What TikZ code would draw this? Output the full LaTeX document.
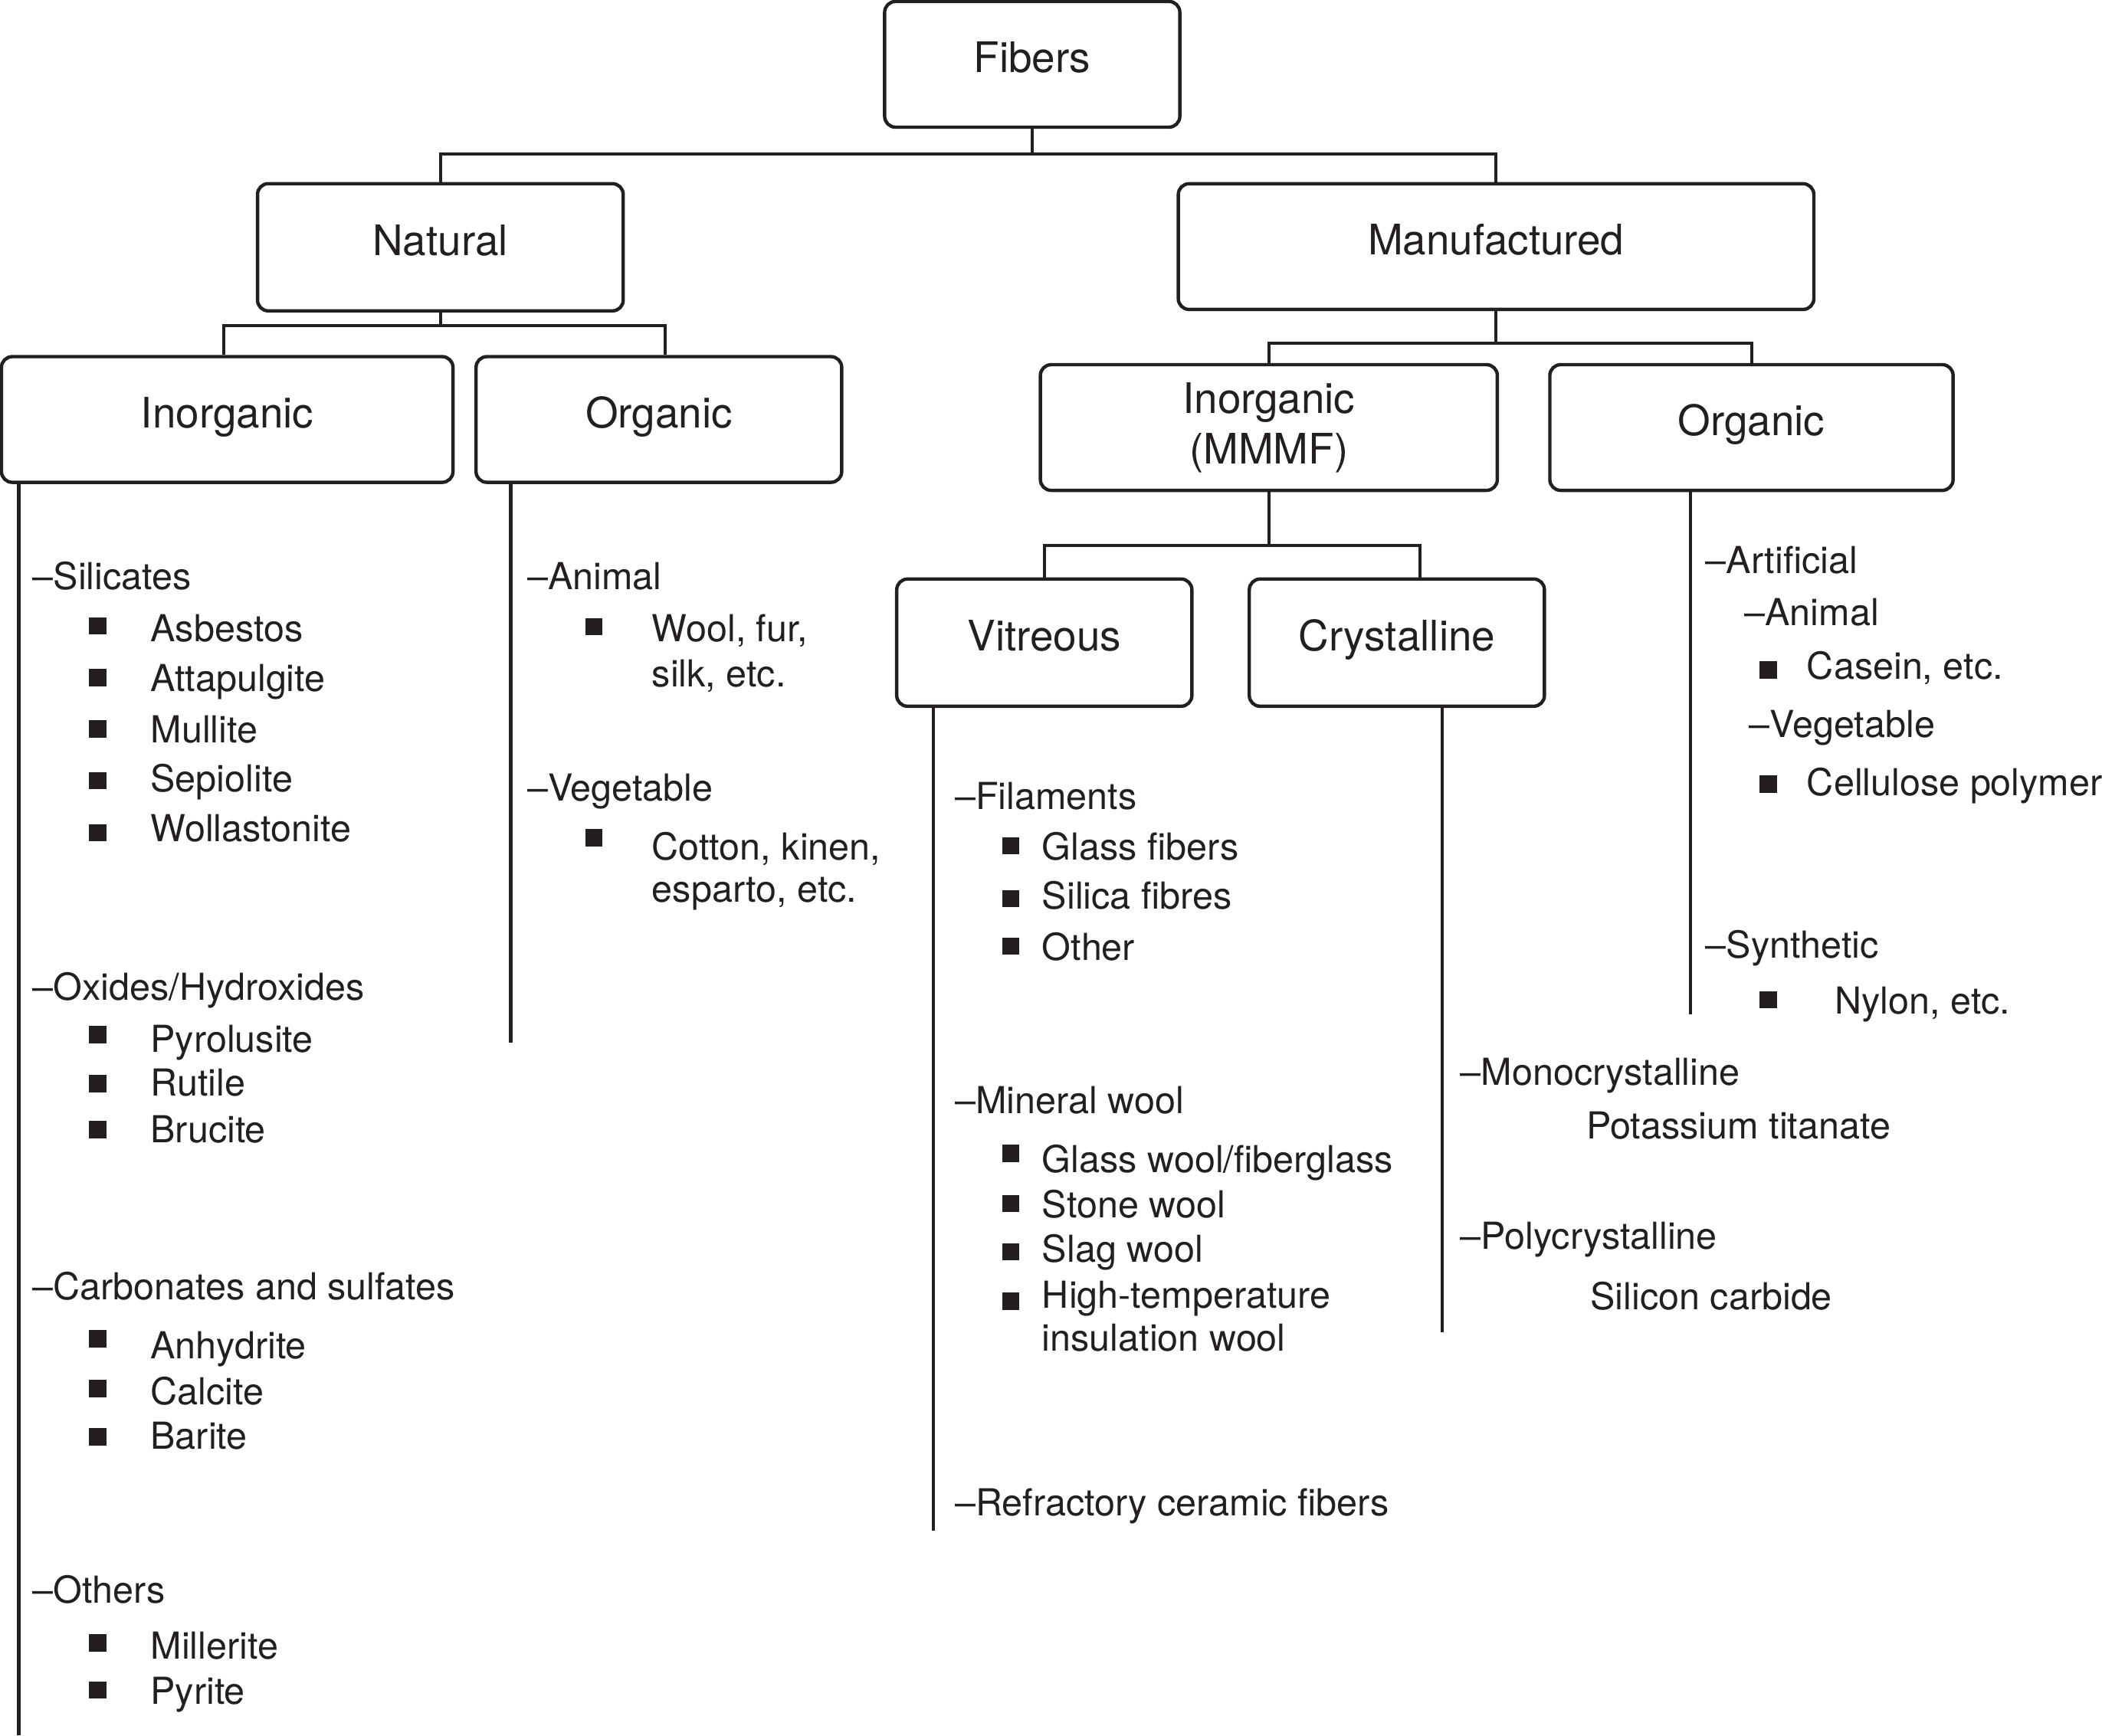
\documentclass[tikz,border=0pt]{standalone}
\usepackage{fontspec}
\setmainfont{TeX Gyre Heros}
\usepackage{tikz}
\definecolor{ink}{RGB}{35,31,32}
\newcommand{\boxfont}{\fontsize{15.6}{18.9}\selectfont}
\newcommand{\itemfont}{\fontsize{13.8}{17}\selectfont}
\newcommand{\sqitem}[4]{
    \node[sqmark] (#1sq) at (#2) {};
    \node[itemtext] (#1) at (#3) {#4};
}
\tikzset{
    catbox/.style={draw=ink, line width=1.25pt, rounded corners=4pt, font=\boxfont,
        text=ink, align=center, inner sep=0pt},
    oneline/.style={text height=11.6pt, text depth=5.4pt},
    itemtext/.style={anchor=base west, inner sep=0pt, font=\itemfont, text=ink},
    sqmark/.style={fill=ink, draw=none, minimum size=0.225cm, inner sep=0pt},
    link/.style={draw=ink, line width=1.15pt},
}

\begin{document}
\begin{tikzpicture}[x=0.01749cm, y=-0.01749cm]
    \useasboundingbox (0,0) rectangle (1568,1295);
    % boxes
    \node[catbox, oneline, minimum width=3.85cm, minimum height=1.64cm] (fib) at (770,48) {Fibers};
    \node[catbox, oneline, minimum width=4.77cm, minimum height=1.66cm] (nat) at (328.5,184.5) {Natural};
    \node[catbox, oneline, minimum width=8.29cm, minimum height=1.64cm] (man) at (1116,184) {Manufactured};
    \node[catbox, oneline, minimum width=5.89cm, minimum height=1.64cm] (inat) at (169.5,313) {Inorganic};
    \node[catbox, oneline, minimum width=4.77cm, minimum height=1.64cm] (onat) at (491.5,313) {Organic};
    \node[catbox, minimum width=5.96cm, minimum height=1.64cm] (mmmf) at (946.5,319) {Inorganic\\(MMMF)};
    \node[catbox, oneline, minimum width=5.26cm, minimum height=1.64cm] (oman) at (1306.5,319) {Organic};
    \node[catbox, oneline, minimum width=3.85cm, minimum height=1.66cm] (vit) at (779,479.5) {Vitreous};
    \node[catbox, oneline, minimum width=3.85cm, minimum height=1.66cm] (cry) at (1042,479.5) {Crystalline};

    % tree connectors
    \coordinate (fj) at (770,115);
    \coordinate (nj) at (328.5,243);
    \coordinate (nl) at (167,243);
    \coordinate (nr) at (496,243);
    \coordinate (mj) at (1116,256);
    \coordinate (ij) at (946.5,407);
    \coordinate (cj) at (1059,407);
    \draw[link] (fib.south) -- (fj);
    \draw[link] (nat.north) |- (fj) -| (man.north);
    \draw[link] (nat.south) -- (nj);
    \draw[link] (inat.north -| nl) -- (nl) -- (nr) -- (onat.north -| nr);
    \draw[link] (man.south) -- (mj);
    \draw[link] (mmmf.north) |- (mj) -| (oman.north);
    \draw[link] (mmmf.south) -- (ij);
    \draw[link] (vit.north) |- (ij) -- (cj) -- (cry.north -| cj);

    % column lines
    \coordinate (ta) at (14,1295);
    \coordinate (tb) at (381,778);
    \coordinate (tc) at (696,1142);
    \coordinate (td) at (1076,994);
    \coordinate (te) at (1261,757);
    \draw[link] (inat.south -| ta) -- (ta);
    \draw[link] (onat.south -| tb) -- (tb);
    \draw[link] (vit.south -| tc) -- (tc);
    \draw[link] (cry.south -| td) -- (td);
    \draw[link] (oman.south -| te) -- (te);

    % natural inorganic
    \node[itemtext] (sil) at (24,440) {–Silicates};
    \sqitem{asb}{73,467}{112,479}{Asbestos}
    \sqitem{att}{73,505.5}{112,516}{Attapulgite}
    \sqitem{mul}{73,544}{112,554}{Mullite}
    \sqitem{sep}{73,582.5}{112,591}{Sepiolite}
    \sqitem{wol}{73,621.5}{112,628}{Wollastonite}
    \node[itemtext] (oxi) at (24,746) {–Oxides/Hydroxides};
    \sqitem{pyr}{73,772}{112,785}{Pyrolusite}
    \sqitem{rut}{73,808.5}{112,818}{Rutile}
    \sqitem{bru}{73,843}{112,852.5}{Brucite}
    \node[itemtext] (carb) at (24,970) {–Carbonates and sulfates};
    \sqitem{anh}{73,999}{112,1014}{Anhydrite}
    \sqitem{cal}{73,1036}{112,1048}{Calcite}
    \sqitem{bar}{73,1072}{112,1081}{Barite}
    \node[itemtext] (oth) at (24,1196) {–Others};
    \sqitem{mil}{73,1226}{112,1238}{Millerite}
    \sqitem{pyt}{73,1261}{112,1271.5}{Pyrite}

    % natural organic
    \node[itemtext] (nani) at (393,440) {–Animal};
    \sqitem{wool}{443,467.5}{486,479}{Wool, fur,}
    \node[itemtext] (silk) at (486,512.5) {silk, etc.};
    \node[itemtext] (nveg) at (393,597.5) {–Vegetable};
    \sqitem{cot}{443,625}{486,641.5}{Cotton, kinen,}
    \node[itemtext] (esp) at (486,673) {esparto, etc.};

    % vitreous
    \node[itemtext] (fil) at (712,604) {–Filaments};
    \sqitem{gf}{754,631}{777,641.5}{Glass fibers}
    \sqitem{sf}{754,670.5}{777,678}{Silica fibres}
    \sqitem{oth2}{754,706}{777,716.5}{Other}
    \node[itemtext] (minw) at (712,831) {–Mineral wool};
    \sqitem{gw}{754,860.5}{777,875}{Glass wool/fiberglass}
    \sqitem{sw}{754,898}{777,908.5}{Stone wool}
    \sqitem{slw}{754,934}{777,941.5}{Slag wool}
    \sqitem{htw}{754,971}{777,976}{High-temperature}
    \node[itemtext] (ins) at (777,1008) {insulation wool};
    \node[itemtext] (rcf) at (712,1131) {–Refractory ceramic fibers};

    % crystalline
    \node[itemtext] (mono) at (1089,809.5) {–Monocrystalline};
    \node[itemtext] (pot) at (1183,850) {Potassium titanate};
    \node[itemtext] (poly) at (1089,932) {–Polycrystalline};
    \node[itemtext] (sic) at (1186,977) {Silicon carbide};

    % manufactured organic
    \node[itemtext] (art) at (1272,428) {–Artificial};
    \node[itemtext] (mani) at (1301,467) {–Animal};
    \sqitem{cas}{1319,500}{1347.5,507}{Casein, etc.}
    \node[itemtext] (mveg) at (1304.5,550) {–Vegetable};
    \sqitem{cel}{1319,585}{1347.5,593.5}{Cellulose polymer}
    \node[itemtext] (syn) at (1272,715) {–Synthetic};
    \sqitem{nyl}{1319,746}{1368.5,756.5}{Nylon, etc.}
\end{tikzpicture}
\end{document}
